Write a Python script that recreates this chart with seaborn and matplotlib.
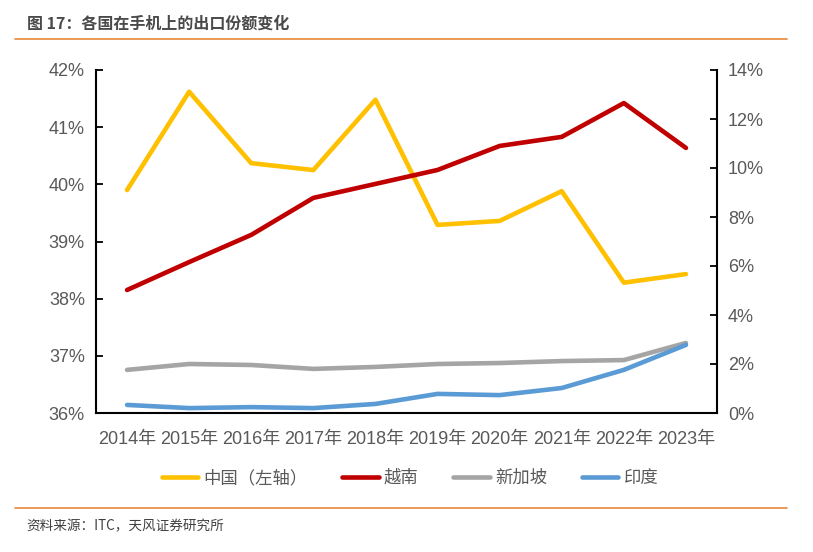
import matplotlib
matplotlib.use("Agg")
import matplotlib.pyplot as plt
import seaborn as sns
import pandas as pd
import numpy as np
from matplotlib.ticker import FixedLocator, FuncFormatter
from matplotlib.lines import Line2D

years = ["2014年", "2015年", "2016年", "2017年", "2018年", "2019年", "2020年", "2021年", "2022年", "2023年"]
china = [39.90, 41.62, 40.37, 40.25, 41.48, 39.29, 39.36, 39.88, 38.28, 38.43]
vietnam = [5.02, 6.16, 7.27, 8.78, 9.35, 9.92, 10.90, 11.27, 12.65, 10.82]
singapore = [1.76, 2.00, 1.96, 1.80, 1.88, 2.00, 2.04, 2.12, 2.16, 2.86]
india = [0.33, 0.20, 0.24, 0.20, 0.37, 0.78, 0.73, 1.02, 1.76, 2.78]
names = ["中国（左轴）", "越南", "新加坡", "印度"]
colors = ["#FFC000", "#C00000", "#A5A5A5", "#5B9BD5"]

sns.set_theme(style="white")
plt.rcParams['font.family'] = ['Liberation Sans', 'Noto Sans CJK SC', 'DejaVu Sans']

fig = plt.figure(figsize=(8.13, 5.52), dpi=100)
ax = fig.add_axes([96/813, 1-413/552, (717-96)/813, (413-70)/552])
ax2 = ax.twinx()

x = np.arange(len(years))
df_left = pd.DataFrame({"x": x, "v": china})
sns.lineplot(data=df_left, x="x", y="v", ax=ax, color=colors[0], linewidth=3.3, legend=False)
for vals, c in zip([vietnam, singapore, india], colors[1:]):
    d = pd.DataFrame({"x": x, "v": vals})
    sns.lineplot(data=d, x="x", y="v", ax=ax2, color=c, linewidth=3.3, legend=False)

ax.set_xlim(-0.5, 9.5)
ax.set_ylim(36, 42)
ax2.set_ylim(0, 14)
for a in (ax, ax2):
    a.set_xlabel("")
    a.set_ylabel("")

ax.set_xticks(x)
ax.set_xticklabels(years)
ax.xaxis.set_minor_locator(FixedLocator(np.arange(-0.5, 10, 1.0)))
ax.set_yticks(np.arange(36, 43, 1))
ax.yaxis.set_major_formatter(FuncFormatter(lambda v, p: f"{v:.0f}%"))
ax2.set_yticks(np.arange(0, 15, 2))
ax2.yaxis.set_major_formatter(FuncFormatter(lambda v, p: f"{v:.0f}%"))

lab_color = "#595959"
ax.tick_params(axis="x", which="major", length=0, labelsize=13, colors=lab_color, pad=13)
ax.tick_params(axis="x", which="minor", direction="in", length=5, width=1.3, color="black")
ax.tick_params(axis="y", direction="in", length=5, width=1.3, color="black", labelsize=13, labelcolor=lab_color, pad=8)
ax2.tick_params(axis="y", direction="in", length=5, width=1.3, color="black", labelsize=13, labelcolor=lab_color, pad=8)
for lab in ax.get_xticklabels():
    lab.set_color(lab_color)

for a in (ax, ax2):
    a.spines["top"].set_visible(False)
    for s in ("left", "right", "bottom"):
        a.spines[s].set_color("black")
        a.spines[s].set_linewidth(1.5)
ax.spines["right"].set_visible(False)
ax2.spines["left"].set_visible(False)
ax2.spines["bottom"].set_visible(False)
ax.grid(False)
ax2.grid(False)

handles = [Line2D([0], [0], color=c, linewidth=3.3, solid_capstyle="round") for c in colors]
fig.legend(handles, names, loc="center", bbox_to_anchor=(410/813, 1-478/552), ncol=4, frameon=False,
           prop={"family": ["Noto Sans CJK SC"], "size": 12.5}, handlelength=2.1, handletextpad=0.3,
           columnspacing=2.0, labelcolor=lab_color)

fig.text(27/813, 1-24/552, "图 17：各国在手机上的出口份额变化", ha="left", va="center",
         fontsize=11.5, fontweight="bold", color="#4a4a4a", family=["Noto Sans CJK SC", "DejaVu Sans"])
fig.add_artist(Line2D([15/813, 787/813], [1-39/552, 1-39/552], color="#E8873A", linewidth=1.2))
fig.add_artist(Line2D([15/813, 787/813], [1-508/552, 1-508/552], color="#E8873A", linewidth=1.2))
fig.text(26/813, 1-526/552, "资料来源：ITC，天风证券研究所", ha="left", va="center",
         fontsize=9.8, color="#404040", family=["Noto Sans CJK SC", "DejaVu Sans"])

fig.savefig("out.png", dpi=100)
